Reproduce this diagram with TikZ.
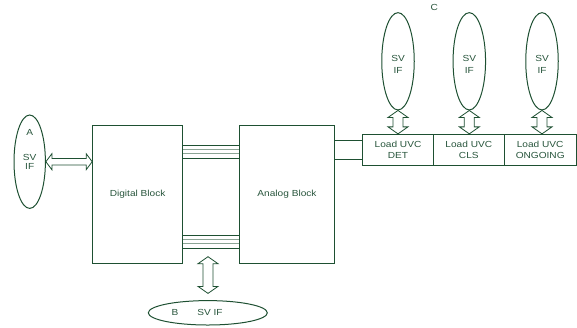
\documentclass[tikz,border=0pt]{standalone}
\usepackage{fontspec}
\newfontfamily\lf[FakeStretch=1.15]{Liberation Sans}
\usetikzlibrary{shapes.geometric,calc}
\definecolor{dk}{RGB}{30,80,50}
\definecolor{lt}{RGB}{140,165,150}
\definecolor{tx}{RGB}{40,85,60}
\newcommand\varrowx[2]{%
 \draw[arr] let \p1=(#1), \p2=(#2) in
 (\x1,\y1) -- (\x1+10pt,\y1-7pt) -- (\x1+5pt,\y1-7pt) -- (\x1+5pt,\y2+7pt) -- (\x1+10pt,\y2+7pt)
 -- (\x1,\y2) -- (\x1-10pt,\y2+7pt) -- (\x1-5pt,\y2+7pt) -- (\x1-5pt,\y1-7pt) -- (\x1-10pt,\y1-7pt) -- cycle;}
\newcommand\harrowx[2]{%
 \draw[arr] let \p1=(#1), \p2=(#2) in
 (\x1,\y1) -- (\x1+6pt,\y1+8pt) -- (\x1+6pt,\y1+3.3pt) -- (\x2-6pt,\y1+3.3pt) -- (\x2-6pt,\y1+8pt)
 -- (\x2,\y1) -- (\x2-6pt,\y1-8pt) -- (\x2-6pt,\y1-3.3pt) -- (\x1+6pt,\y1-3.3pt) -- (\x1+6pt,\y1-8pt) -- cycle;}
\begin{document}
\begin{tikzpicture}[x=1pt,y=-1pt,
  every node/.style={font=\lf\fontsize{8.8}{10}\selectfont, text=tx},
  blk/.style={draw=dk, line width=1pt, rectangle, inner sep=0},
  ell/.style={draw=dk, line width=1pt, ellipse, inner sep=0},
  arr/.style={draw=dk, line width=0.8pt, line join=miter},
  lbl/.style={inner sep=0, anchor=center}]
\useasboundingbox (0,0) rectangle (577,327);
% blocks
\node[blk, minimum width=89.8pt, minimum height=138.3pt] (dig) at (137.6,194.2) {};
\node[blk, minimum width=95.4pt, minimum height=138.3pt] (ana) at (287,194.2) {};
\node[lbl] (digt) at (137.6,194.3) {Digital Block};
\node[lbl] (anat) at (287,194.3) {Analog Block};
% load boxes
\node[blk, minimum width=70.6pt, minimum height=30.7pt] (l1) at (398,149.7) {};
\node[blk, minimum width=71pt, minimum height=30.7pt] (l2) at (468.8,149.7) {};
\node[blk, minimum width=71.7pt, minimum height=30.7pt] (l3) at (540.2,149.7) {};
\node[lbl] (l1a) at (398,144.3) {Load UVC};
\node[lbl] (l1b) at (398,155.3) {DET};
\node[lbl] (l2a) at (468.8,144.3) {Load UVC};
\node[lbl] (l2b) at (468.8,155.3) {CLS};
\node[lbl] (l3a) at (540.2,144.3) {Load UVC};
\node[lbl] (l3b) at (540.2,155.3) {ONGOING};
% top ellipses
\node[ell, minimum width=32.5pt, minimum height=97.3pt] (e1) at (398,61.3) {};
\node[ell, minimum width=32.5pt, minimum height=97.3pt] (e2) at (469.3,61.3) {};
\node[ell, minimum width=32.5pt, minimum height=97.3pt] (e3) at (542,61.3) {};
\foreach \n/\x in {s1/398, s2/469.3, s3/542}{
  \node[lbl] (\n a) at (\x,58.3) {SV};
  \node[lbl] (\n b) at (\x,70) {IF};
}
\node[lbl] (c) at (434.3,7.5) {C};
% left ellipse A
\node[ell, minimum width=31.4pt, minimum height=93.4pt] (ea) at (29.7,161.7) {};
\node[lbl] (ta) at (29.7,132.3) {A};
\node[lbl] (tas) at (29.7,157.3) {SV};
\node[lbl] (tai) at (29.7,166.7) {IF};
% bottom ellipse B
\node[ell, minimum width=119pt, minimum height=24.4pt] (eb) at (207.8,312.8) {};
\node[lbl] (tb) at (175,312.7) {B};
\node[lbl] (tbs) at (210,312.7) {SV IF};
% bus lines
\foreach \y/\c in {145/dk,149.3/lt,153.7/lt,158.3/dk,235/dk,239.3/lt,243.7/lt,248/dk}
  \draw[\c, line width=1pt] (dig.east |- 0,\y) -- (ana.west |- 0,\y);
% analog to load
\foreach \y in {140.5,159.3}
  \draw[dk, line width=1pt] (ana.east |- 0,\y) -- (l1.west |- 0,\y);
% arrows
\harrowx{ea.east}{dig.west}
\varrowx{e1.south}{l1.north}
\varrowx{e2.south}{e2.south |- l2.north}
\varrowx{e3.south}{e3.south |- l3.north}
\coordinate (bt) at (208,256.7);
\coordinate (bb) at ($(eb.north)+(0,-6.7)$);
\varrowx{bt}{bt |- bb}
\end{tikzpicture}
\end{document}
